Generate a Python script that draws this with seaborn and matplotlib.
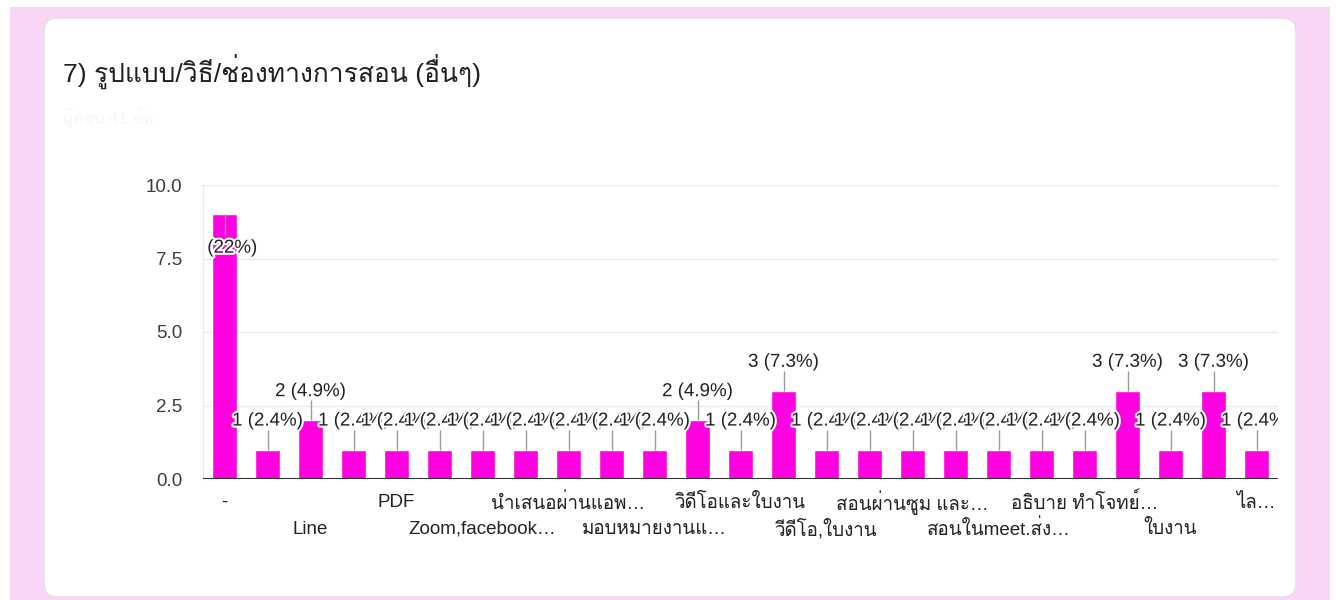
import numpy as np
import pandas as pd
import seaborn as sns
import matplotlib.pyplot as plt
import matplotlib.patheffects as pe
from matplotlib import font_manager, ft2font
from matplotlib.patches import FancyBboxPatch


## ==============================
## 데이터
title = '7) รูปแบบ/วิธี/ช่องทางการสอน (อื่นๆ)'
subtitle = 'ผู้ตอบ 41 ข้อ'

# 막대 25개, 라벨은 짝수 번째만 보임 (나머지는 차트에서 생략됨)
categories = ['-', '', 'Line', '', 'PDF', '', 'Zoom,facebook…', '',
              'นำเสนอผ่านแอพ…', '', 'มอบหมายงานแ…', '', 'วิดีโอและใบงาน', '',
              'วีดีโอ,ใบงาน', '', 'สอนผ่านซูม และ…', '', 'สอนในmeet.ส่ง…', '',
              'อธิบาย ทำโจทย์…', '', 'ใบงาน', '', 'ไล…']
counts = [9, 1, 2, 1, 1, 1, 1, 1, 1, 1, 1, 2, 1, 3, 1, 1, 1, 1, 1, 1, 1, 3, 1, 3, 1]
yticks = [0, 2.5, 5, 7.5, 10]

total = sum(counts)
df = pd.DataFrame({'idx': range(len(counts)), 'count': counts})


## ==============================
## 태국어 글꼴 찾기
def find_thai_font():
    for f in font_manager.fontManager.ttflist:
        try:
            if 0x0E01 in ft2font.FT2Font(f.fname).get_charmap():
                return f.name
        except Exception:
            pass
    return None

sns.set_style('white')
thai = find_thai_font()
fams = ['Liberation Sans'] + ([thai] if thai else []) + ['DejaVu Sans']
plt.rcParams['font.family'] = fams

BAR = '#ff00e1'
TXT = '#222222'

fig = plt.figure(figsize=(13.36, 6), dpi=100)
fig.patch.set_facecolor('white')

# 배경 (분홍) + 카드 (흰색)
fig.patches.append(FancyBboxPatch((10, 0), 1320, 593, boxstyle='square,pad=0',
                                  transform=None, facecolor='#fad6f6', edgecolor='none', zorder=-10))
fig.patches.append(FancyBboxPatch((44, 3), 1252, 579, boxstyle='round,pad=0,rounding_size=14',
                                  transform=None, facecolor='white', edgecolor='#e6dde6', lw=1, zorder=-9))

fig.text(63 / 1336, 1 - 71 / 600, title, fontsize=19, color='#202124', va='center', ha='left')
fig.text(63 / 1336, 1 - 118 / 600, subtitle, fontsize=12, color='#f6f6f6', va='center', ha='left')

ax = fig.add_axes([203 / 1336, 1 - 479 / 600, 1075 / 1336, 294 / 600])
sns.barplot(data=df, x='idx', y='count', order=list(range(len(counts))),
            color=BAR, saturation=1, width=0.6, ax=ax, zorder=3)

ax.set_xlim(-0.5, len(counts) - 0.5)
ax.set_ylim(0, 10)
ax.set_yticks(yticks)
ax.set_yticklabels([f'{t:.1f}' for t in yticks], fontsize=13.5, color='#3c3c3c')
ax.tick_params(axis='y', length=0, pad=15)
ax.set_xticks([])
ax.set_xlabel('')
ax.set_ylabel('')
ax.set_facecolor('none')

for y in yticks[1:]:
    ax.axhline(y, color='#ebebeb', lw=1, zorder=1)
ax.axhline(0, color='#333333', lw=1.5, zorder=4)
for s in ['top', 'right', 'bottom']:
    ax.spines[s].set_visible(False)
ax.spines['left'].set_color('#ebebeb')

# x 라벨 두 줄로 번갈아 표시
row = 0
for i, lab in enumerate(categories):
    if not lab:
        continue
    ax.annotate(lab, xy=(i, 0), xycoords=('data', 'axes fraction'),
                xytext=(0, -17 if row % 2 == 0 else -36), textcoords='offset points',
                ha='center', va='center', fontsize=13.5, color=TXT)
    row += 1

# 값 라벨 + 지시선
halo = [pe.withStroke(linewidth=3, foreground='white')]
for i, c in enumerate(counts):
    lab = f'{c} ({c / total * 100:.2g}%)'
    if c >= 8:
        ax.vlines(i, c - 0.7, c, color='#999999', lw=1, zorder=5)
        ty = c - 1.15
    else:
        ax.vlines(i, c, c + 0.68, color='#999999', lw=1, zorder=5)
        ty = c + 0.97
    ax.text(i, ty, lab, ha='center', va='center', fontsize=13.5, color=TXT,
            path_effects=halo, zorder=6, clip_on=True)

fig.savefig('out.png', dpi=100)
